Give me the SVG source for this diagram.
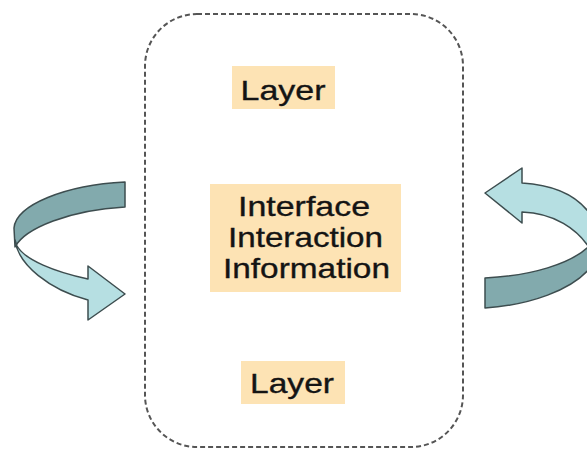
<svg xmlns="http://www.w3.org/2000/svg" width="587" height="450" viewBox="0 0 587 450">
<style>
.lbl{font-family:"Liberation Sans",Arial,sans-serif;font-size:28px;fill:#141414;stroke:#141414;stroke-width:0.35;text-anchor:middle}
.box{fill:#fde3b4}
.dark{fill:#82aaad;stroke:#3d4d4f;stroke-width:1.5;stroke-linejoin:round}
.light{fill:#b6dfe2;stroke:#3d4d4f;stroke-width:1.5;stroke-linejoin:round}
</style>
<rect width="587" height="450" fill="#fff"/>
<g id="container">
<rect x="145" y="14" width="318" height="433" rx="52" ry="52" fill="none" stroke="#555" stroke-width="2" stroke-dasharray="5,3"/>
</g>
<g id="layer-top">
<rect class="box" x="232" y="66" width="103" height="43"/>
<text class="lbl" x="283" y="100" textLength="85" lengthAdjust="spacingAndGlyphs">Layer</text>
</g>
<g id="center">
<rect class="box" x="210" y="184" width="191" height="108"/>
<text class="lbl" x="304" y="216" textLength="132" lengthAdjust="spacingAndGlyphs">Interface</text>
<text class="lbl" x="305.5" y="247" textLength="155" lengthAdjust="spacingAndGlyphs">Interaction</text>
<text class="lbl" x="306.5" y="278" textLength="167" lengthAdjust="spacingAndGlyphs">Information</text>
</g>
<g id="layer-bottom">
<rect class="box" x="241" y="361" width="104" height="43"/>
<text class="lbl" x="292" y="393" textLength="84" lengthAdjust="spacingAndGlyphs">Layer</text>
</g>
<g id="connectors">
<g id="arrow-left">
<path class="dark" d="M125,182 C65,185 16,205 14,228 L15,247 C25,228 70,210 125,207 Z"/>
<path class="light" d="M15,240 C18,265 50,290 88,300 L88,320 L125,294 L88,266 L88,279 C55,272 25,260 17,246 Z"/>
</g>
<g id="arrow-right">
<path class="light" d="M595,222 C582,197 556,185 522,183 L522,168 L485,193 L522,223 L522,212 C553,213 578,228 592,252 Z"/>
<path class="dark" d="M485,278 C530,276 572,264 590,245 L590,268 C572,290 530,305 485,308 Z"/>
</g>
</g>
</svg>
